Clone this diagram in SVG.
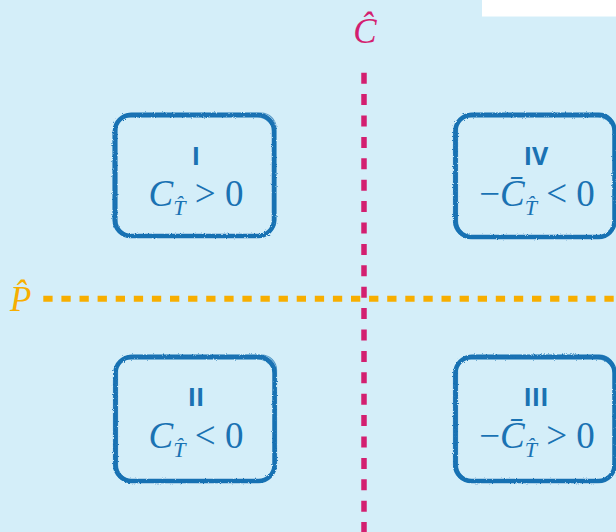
<svg xmlns="http://www.w3.org/2000/svg" width="616" height="532" viewBox="0 0 616 532">
<defs>
<style>
.box{fill:none;stroke:#1a72b3;stroke-width:4.5;}
.box2{fill:none;stroke:#1a72b3;stroke-width:1.2;opacity:0.7;}
.num{font-family:"Open Sans","Liberation Sans",sans-serif;font-weight:700;font-size:25px;fill:#1a72b3;text-anchor:middle;}
.f{font-family:"Liberation Serif",serif;font-size:37px;fill:#1a72b3;text-anchor:middle;}
.i{font-style:italic;}
.sub{font-size:22px;font-style:italic;}
.ax{font-family:"Liberation Serif",serif;font-style:italic;font-size:35px;}
</style>
<filter id="rough" x="-5%" y="-5%" width="110%" height="110%">
<feTurbulence type="fractalNoise" baseFrequency="0.9" numOctaves="2" seed="3"/>
<feDisplacementMap in="SourceGraphic" scale="2.5"/>
</filter>
</defs>
<rect width="616" height="532" fill="#d4eef9"/>
<rect x="482" y="0" width="134" height="16.5" fill="#ffffff"/>
<g id="connectors">
<line x1="364" y1="72.7" x2="364" y2="532" stroke="#d31f70" stroke-width="5.5" stroke-dasharray="11 10.4"/>
<line x1="43.3" y1="298.7" x2="616" y2="298.7" stroke="#f7ae00" stroke-width="6" stroke-dasharray="9.3 8.8"/>
</g>
<g id="axis-c">
<text class="ax" x="365" y="43" fill="#d31f70" text-anchor="middle">Ĉ</text>
</g>
<g id="axis-p">
<text class="ax" x="10" y="311" fill="#f7ae00">P̂</text>
</g>
<g id="box-I">
<g filter="url(#rough)">
<rect class="box" x="115" y="115" width="159" height="121" rx="16"/>
<rect class="box2" x="113" y="117" width="161" height="120" rx="17"/>
<rect class="box2" x="117" y="113" width="159" height="122" rx="15"/>
</g>
<text class="num" x="196" y="165">I</text>
<text class="f" x="196" y="206"><tspan class="i">C</tspan><tspan class="sub" dy="9">T̂</tspan><tspan dy="-9"> &gt; 0</tspan></text>
</g>
<g id="box-IV">
<g filter="url(#rough)">
<rect class="box" x="455.5" y="115" width="159" height="122" rx="16"/>
<rect class="box2" x="453.5" y="117" width="161" height="121" rx="17"/>
<rect class="box2" x="457.5" y="113" width="157" height="123" rx="15"/>
</g>
<text class="num" x="536" y="165">IV</text>
<text class="f" x="537" y="206"><tspan>−</tspan><tspan class="i">C̄</tspan><tspan class="sub" dy="9">T̂</tspan><tspan dy="-9"> &lt; 0</tspan></text>
</g>
<g id="box-II">
<g filter="url(#rough)">
<rect class="box" x="115.5" y="357" width="159" height="124" rx="16"/>
<rect class="box2" x="113.5" y="359" width="161" height="123" rx="17"/>
<rect class="box2" x="117.5" y="355" width="159" height="125" rx="15"/>
</g>
<text class="num" x="196" y="406">II</text>
<text class="f" x="196" y="448"><tspan class="i">C</tspan><tspan class="sub" dy="9">T̂</tspan><tspan dy="-9"> &lt; 0</tspan></text>
</g>
<g id="box-III">
<g filter="url(#rough)">
<rect class="box" x="455.5" y="357" width="159" height="124" rx="16"/>
<rect class="box2" x="453.5" y="359" width="161" height="123" rx="17"/>
<rect class="box2" x="457.5" y="355" width="157" height="125" rx="15"/>
</g>
<text class="num" x="536" y="406">III</text>
<text class="f" x="537" y="448"><tspan>−</tspan><tspan class="i">C̄</tspan><tspan class="sub" dy="9">T̂</tspan><tspan dy="-9"> &gt; 0</tspan></text>
</g>
</svg>
